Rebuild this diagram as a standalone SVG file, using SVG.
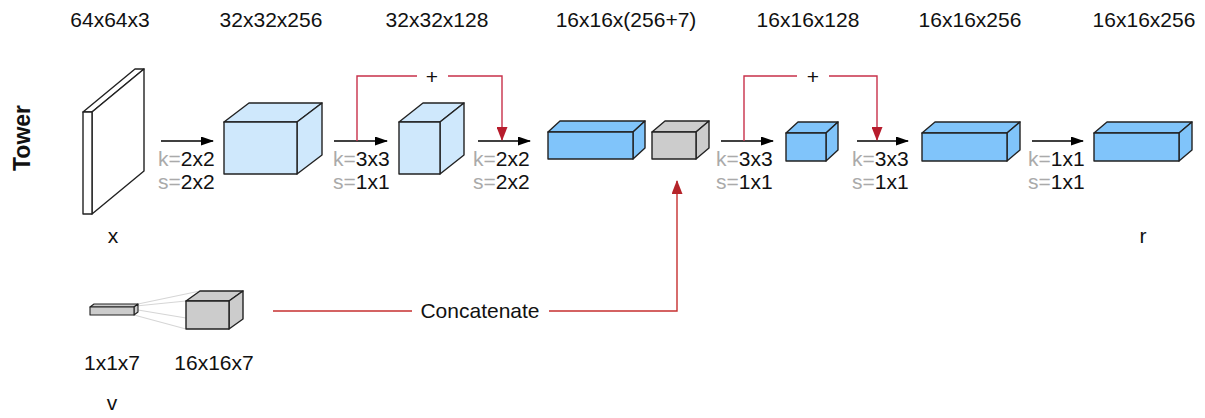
<svg xmlns="http://www.w3.org/2000/svg" width="1205" height="418" viewBox="0 0 1205 418">
<defs>
<style>
text{font-family:"Liberation Sans",Arial,sans-serif;font-size:21px;fill:#111}
.c{text-anchor:middle}
.g{fill:#aaaaaa}
.box{stroke:#222;stroke-width:1.4;stroke-linejoin:round}
.lb{fill:#cfe8fc}
.db{fill:#80c4fa}
.gr{fill:#cccccc}
.wh{fill:#ffffff}
.arr{stroke:#000;stroke-width:1.4;fill:none}
.red{stroke:#c8314a;stroke-width:1.4;fill:none}
.red2{stroke:#c62f2f;stroke-width:1.4;fill:none}
.fan{stroke:#d6d6d6;stroke-width:1.2}
</style>
<marker id="ab" markerWidth="13" markerHeight="9" refX="12" refY="4.5" orient="auto" markerUnits="userSpaceOnUse"><path d="M0,0 L13,4.5 L0,9 z" fill="#000"/></marker>
<marker id="ar" markerWidth="14" markerHeight="11" refX="13" refY="5.5" orient="auto" markerUnits="userSpaceOnUse"><path d="M0,0 L14,5.5 L0,11 z" fill="#b71c2c"/></marker>
<marker id="ar2" markerWidth="14" markerHeight="11" refX="13" refY="5.5" orient="auto" markerUnits="userSpaceOnUse"><path d="M0,0 L14,5.5 L0,11 z" fill="#b5242a"/></marker>
</defs>

<text transform="translate(30,138) rotate(-90)" class="c" style="font-weight:bold;font-size:23px">Tower</text>

<g id="dims">
<text x="110" y="27" class="c">64x64x3</text>
<text x="271" y="27" class="c">32x32x256</text>
<text x="437" y="27" class="c">32x32x128</text>
<text x="626" y="27" class="c">16x16x(256+7)</text>
<text x="808" y="27" class="c">16x16x128</text>
<text x="970" y="27" class="c">16x16x256</text>
<text x="1144" y="27" class="c">16x16x256</text>
</g>

<g id="node-x">
<polygon class="box wh" points="83,112 92,112 144,69 135,69"/>
<polygon class="box wh" points="92,112 144,69 144,171 92,214"/>
<rect class="box wh" x="83" y="112" width="9" height="102"/>
<text x="113" y="243" class="c">x</text>
</g>

<g id="node-c1">
<polygon class="box lb" points="224,122 297,122 322,103 249,103"/>
<polygon class="box lb" points="297,122 322,103 322,155 297,174"/>
<rect class="box lb" x="224" y="122" width="73" height="52"/>
</g>

<g id="node-c2">
<polygon class="box lb" points="399,122 440,122 464,103 423,103"/>
<polygon class="box lb" points="440,122 464,103 464,155 440,174"/>
<rect class="box lb" x="399" y="122" width="41" height="52"/>
</g>

<g id="node-b1">
<polygon class="box db" points="548,132 633,132 645,121 560,121"/>
<polygon class="box db" points="633,132 645,121 645,148 633,159"/>
<rect class="box db" x="548" y="132" width="85" height="27"/>
</g>

<g id="node-g1">
<polygon class="box gr" points="652,132 696,132 709,121 665,121"/>
<polygon class="box gr" points="696,132 709,121 709,148 696,159"/>
<rect class="box gr" x="652" y="132" width="44" height="27"/>
</g>

<g id="node-b2">
<polygon class="box db" points="786,133 826,133 838,122 798,122"/>
<polygon class="box db" points="826,133 838,122 838,150 826,161"/>
<rect class="box db" x="786" y="133" width="40" height="28"/>
</g>

<g id="node-b3">
<polygon class="box db" points="922,133 1007,133 1020,122 935,122"/>
<polygon class="box db" points="1007,133 1020,122 1020,150 1007,161"/>
<rect class="box db" x="922" y="133" width="85" height="28"/>
</g>

<g id="node-b4">
<polygon class="box db" points="1094,133 1179,133 1192,122 1107,122"/>
<polygon class="box db" points="1179,133 1192,122 1192,150 1179,161"/>
<rect class="box db" x="1094" y="133" width="85" height="28"/>
<text x="1143" y="243" class="c">r</text>
</g>

<g id="node-v">
<line class="fan" x1="138" y1="304" x2="200" y2="291"/>
<line class="fan" x1="136" y1="306" x2="186" y2="301"/>
<line class="fan" x1="138" y1="310" x2="186" y2="318"/>
<line class="fan" x1="134" y1="315" x2="186" y2="329"/>
<polygon class="box gr" points="90,307 134,307 138,304 94,304" style="stroke-width:1.1"/>
<polygon class="box gr" points="134,307 138,304 138,312 134,315" style="stroke-width:1.1"/>
<rect class="box gr" x="90" y="307" width="44" height="8" style="stroke-width:1.1"/>
<text x="112" y="370" class="c">1x1x7</text>
<text x="112" y="410" class="c">v</text>
</g>

<g id="node-v16">
<polygon class="box gr" points="186,301 229,301 243,291 200,291"/>
<polygon class="box gr" points="229,301 243,291 243,319 229,329"/>
<rect class="box gr" x="186" y="301" width="43" height="28"/>
<text x="214" y="370" class="c">16x16x7</text>
</g>

<g id="connectors">
<line class="arr" x1="161" y1="141" x2="213" y2="141" marker-end="url(#ab)"/>
<line class="arr" x1="334" y1="141" x2="387" y2="141" marker-end="url(#ab)"/>
<line class="arr" x1="478" y1="141" x2="530" y2="141" marker-end="url(#ab)"/>
<line class="arr" x1="721" y1="141" x2="773" y2="141" marker-end="url(#ab)"/>
<line class="arr" x1="857" y1="141" x2="908" y2="141" marker-end="url(#ab)"/>
<line class="arr" x1="1032" y1="141" x2="1083" y2="141" marker-end="url(#ab)"/>

<path class="red" d="M357,141 V76 H417"/>
<path class="red" d="M448,76 H502 V140" marker-end="url(#ar)"/>
<text x="432" y="84" class="c" style="font-size:21px">+</text>

<path class="red" d="M744,141 V76 H797"/>
<path class="red" d="M829,76 H877 V140" marker-end="url(#ar)"/>
<text x="813" y="84" class="c" style="font-size:21px">+</text>

<path class="red2" d="M273,311 H412"/>
<path class="red2" d="M549,311 H677 V181" marker-end="url(#ar2)"/>
<text x="480" y="318" class="c">Concatenate</text>
</g>

<g id="params">
<text x="158" y="166"><tspan class="g">k=</tspan>2x2</text>
<text x="158" y="189"><tspan class="g">s=</tspan>2x2</text>
<text x="333" y="166"><tspan class="g">k=</tspan>3x3</text>
<text x="333" y="189"><tspan class="g">s=</tspan>1x1</text>
<text x="473" y="166"><tspan class="g">k=</tspan>2x2</text>
<text x="473" y="189"><tspan class="g">s=</tspan>2x2</text>
<text x="716" y="166"><tspan class="g">k=</tspan>3x3</text>
<text x="716" y="189"><tspan class="g">s=</tspan>1x1</text>
<text x="852" y="166"><tspan class="g">k=</tspan>3x3</text>
<text x="852" y="189"><tspan class="g">s=</tspan>1x1</text>
<text x="1028" y="166"><tspan class="g">k=</tspan>1x1</text>
<text x="1028" y="189"><tspan class="g">s=</tspan>1x1</text>
</g>
</svg>
